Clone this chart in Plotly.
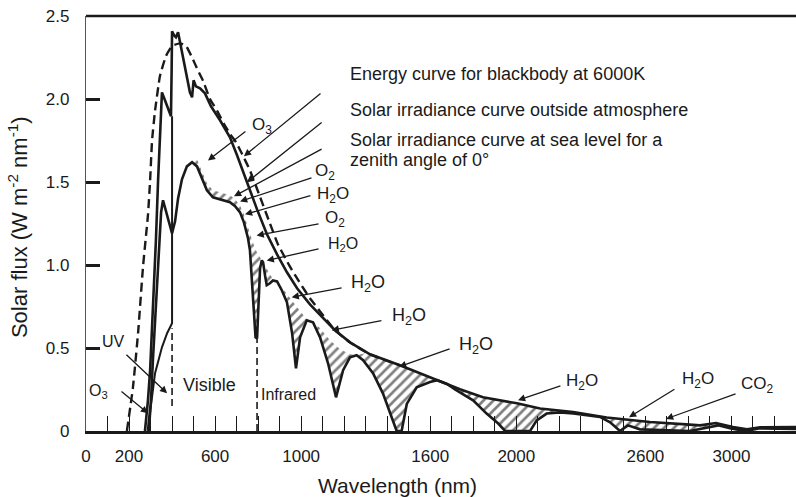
import numpy as np
import plotly.graph_objects as go

# ---- spectra: wavelength (nm) and flux (W m^-2 nm^-1) ----
bb_nm = [190, 218, 242, 265, 288, 298, 307, 321, 344, 372, 400, 437, 465, 493, 521, 544,
         576, 609, 641, 669, 697, 725, 762, 809, 855, 892, 948, 995, 1041, 1088, 1157,
         1227, 1320, 1459]
bb_flux = [0.0, 0.26, 0.59, 0.99, 1.30, 1.51, 1.75, 1.93, 2.14, 2.26, 2.32, 2.335, 2.32,
           2.25, 2.17, 2.11, 2.00, 1.93, 1.85, 1.79, 1.74, 1.67, 1.57, 1.41, 1.25, 1.125,
           0.99, 0.89, 0.80, 0.72, 0.607, 0.534, 0.462, 0.396]

toa_nm = [274, 288, 298, 307, 316, 325, 335, 344, 353, 367, 381, 395, 398, 400, 409, 418,
          428, 437, 451, 469, 483, 493, 500, 511, 530, 553, 581, 623, 669, 702, 748, 795,
          841, 888, 934, 981, 1041, 1097, 1157, 1227, 1320, 1459, 1613, 1738, 1845, 2003,
          2110, 2264, 2420, 2621, 2789, 2854, 2928, 3007, 3072, 3133, 3300]
toa_flux = [0.0, 0.185, 0.366, 0.607, 0.848, 1.149, 1.510, 1.811, 2.040, 1.992, 1.944,
            1.896, 2.173, 2.408, 2.384, 2.372, 2.402, 2.341, 2.245, 2.143, 2.040, 2.010,
            2.113, 2.076, 2.064, 2.034, 1.956, 1.872, 1.769, 1.661, 1.498, 1.335, 1.185,
            1.064, 0.956, 0.860, 0.763, 0.685, 0.607, 0.534, 0.462, 0.396, 0.317, 0.251,
            0.203, 0.167, 0.135, 0.114, 0.081, 0.054, 0.040, 0.034, 0.048, 0.024, 0.010,
            0.022, 0.024]

sea_nm = [288, 302, 311, 321, 330, 339, 349, 358, 372, 386, 400, 414, 428, 446, 469, 493,
          516, 539, 562, 590, 632, 669, 693, 716, 734, 753, 762, 772, 781, 788, 795, 802,
          809, 817, 823, 832, 840, 855, 869, 888, 910, 934, 958, 976, 995, 1026, 1055,
          1088, 1125, 1162, 1195, 1227, 1258, 1288, 1334, 1380, 1422, 1444, 1467, 1491,
          1537, 1599, 1632, 1678, 1715, 1799, 1862, 1916, 1948, 2064, 2095, 2141, 2203,
          2265, 2327, 2389, 2436, 2482, 2519, 2575, 2807, 2877, 2938, 2993, 3063, 3133,
          3226, 3300]
sea_flux = [0.0, 0.185, 0.426, 0.667, 0.907, 1.149, 1.317, 1.390, 1.329, 1.257, 1.191,
            1.263, 1.401, 1.516, 1.594, 1.619, 1.594, 1.516, 1.450, 1.408, 1.390, 1.378,
            1.354, 1.317, 1.257, 1.161, 1.088, 0.889, 0.685, 0.564, 0.558, 0.787, 0.980,
            1.028, 1.016, 0.938, 0.878, 0.890, 0.907, 0.901, 0.848, 0.775, 0.588, 0.378,
            0.564, 0.667, 0.655, 0.564, 0.408, 0.203, 0.366, 0.444, 0.456, 0.426, 0.348,
            0.227, 0.083, 0.0, 0.0, 0.163, 0.263, 0.295, 0.306, 0.283, 0.251, 0.185,
            0.105, 0.045, 0.0, 0.0, 0.064, 0.105, 0.112, 0.106, 0.095, 0.085, 0.052, 0.0,
            0.034, 0.010, 0.0, 0.019, 0.034, 0.016, 0.0, 0.016, 0.013, 0.013]

# near-UV step of the sea-level spectrum at 400 nm
step_nm = [293, 302, 321, 353, 377, 400, 400]
step_flux = [0.0, 0.155, 0.348, 0.504, 0.589, 0.649, 1.896]

# upper edge of the absorbed (hatched) area up to 1413 nm;
# beyond that the top-of-atmosphere curve bounds it
absorb_top_nm = [493, 516, 539, 562, 590, 632, 669, 693, 716, 734, 753, 772, 790, 817, 841,
                 869, 906, 948, 985, 1026, 1055, 1088, 1134, 1181, 1227, 1258, 1297, 1343,
                 1413]
absorb_top_flux = [1.619, 1.637, 1.564, 1.492, 1.450, 1.432, 1.420, 1.396, 1.359, 1.305,
                   1.221, 1.149, 1.088, 1.028, 0.980, 0.914, 0.872, 0.805, 0.739, 0.673,
                   0.661, 0.619, 0.546, 0.492, 0.462, 0.456, 0.468, 0.444, 0.414]

# UV / visible and visible / infrared boundaries
band_edges_nm = [400, 795]

x_tick_vals = [0, 200, 600, 1000, 1600, 2000, 2600, 3000]
y_tick_vals = [0, 0.5, 1.0, 1.5, 2.0, 2.5]
y_tick_text = ["0", "0.5", "1.0", "1.5", "2.0", "2.5"]

INK = "#1a1a1a"
FONT = "Liberation Sans, Arial, Helvetica, sans-serif"

# ---- hatched region: envelope vs. sea-level curve ----
toa_nm_a = np.array(toa_nm, float)
toa_flux_a = np.array(toa_flux, float)
sea_nm_a = np.array(sea_nm, float)
sea_flux_a = np.array(sea_flux, float)

tail = toa_nm_a > absorb_top_nm[-1]
env_x = np.concatenate([absorb_top_nm, toa_nm_a[tail]])
env_y = np.concatenate([absorb_top_flux, toa_flux_a[tail]])
keep = sea_nm_a >= absorb_top_nm[0]
sub_x = sea_nm_a[keep]
sub_y = sea_flux_a[keep]

fig = go.Figure()

fig.add_trace(go.Scatter(x=env_x, y=env_y, mode="lines",
                         line=dict(width=0, color="rgba(0,0,0,0)"),
                         hoverinfo="skip", showlegend=False))
fig.add_trace(go.Scatter(x=sub_x, y=sub_y, mode="lines", fill="tonexty",
                         fillcolor="rgba(0,0,0,0)",
                         fillpattern=dict(shape="/", size=7, solidity=0.38,
                                          fgcolor="#000000", bgcolor="rgba(0,0,0,0)"),
                         line=dict(width=0, color="rgba(0,0,0,0)"),
                         hoverinfo="skip", showlegend=False))

# blackbody curve
fig.add_trace(go.Scatter(x=bb_nm, y=bb_flux, mode="lines",
                         line=dict(color=INK, width=2.4, dash="9px,5px", shape="spline",
                                   smoothing=0.4),
                         showlegend=False))

# band boundaries (dashed)
uv_top = np.interp(band_edges_nm[0], step_nm[:-1], step_flux[:-1])
ir_top = np.interp(band_edges_nm[1], sea_nm, sea_flux)
for edge, y0, y1 in [(band_edges_nm[0], 0.15, uv_top - 0.03), (band_edges_nm[1], 0.0, ir_top)]:
    fig.add_trace(go.Scatter(x=[edge, edge], y=[y0, y1], mode="lines",
                             line=dict(color=INK, width=1.6, dash="7px,4px"),
                             showlegend=False))

# top-of-atmosphere and sea-level spectra
fig.add_trace(go.Scatter(x=toa_nm, y=toa_flux, mode="lines",
                         line=dict(color=INK, width=2.6), showlegend=False))
fig.add_trace(go.Scatter(x=sea_nm, y=sea_flux, mode="lines",
                         line=dict(color=INK, width=2.6), showlegend=False))
fig.add_trace(go.Scatter(x=step_nm, y=step_flux, mode="lines",
                         line=dict(color=INK, width=2.0), showlegend=False))

# ---- annotations ----
def arrow(head, tail):
    return dict(x=head[0], y=head[1], ax=tail[0], ay=tail[1],
                xref="x", yref="y", axref="x", ayref="y", text="",
                showarrow=True, arrowhead=2, arrowsize=1.1, arrowwidth=1.3,
                arrowcolor=INK, standoff=0, startstandoff=0)


def label(text, x, y, size=17, anchor="center"):
    return dict(x=x, y=y, xref="x", yref="y", text=text, showarrow=False,
                xanchor=anchor, yanchor="middle",
                font=dict(family=FONT, size=size, color=INK))


arrows = [
    ((734, 1.655), (1097, 2.040)),
    ((748, 1.498), (1102, 1.866)),
    ((688, 1.414), (1102, 1.703)),
    ((567, 1.630), (748, 1.811)),
    ((716, 1.383), (1055, 1.528)),
    ((739, 1.305), (1050, 1.420)),
    ((793, 1.178), (1088, 1.250)),
    ((840, 1.027), (1088, 1.099)),
    ((956, 0.806), (1195, 0.864)),
    ((1142, 0.607), (1380, 0.667)),
    ((1455, 0.387), (1697, 0.498)),
    ((2008, 0.185), (2212, 0.275)),
    ((2524, 0.083), (2742, 0.257)),
    ((2696, 0.073), (3026, 0.227)),
    ((377, 0.227), (181, 0.468)),
    ((288, 0.107), (158, 0.245)),
]

O3 = "O<sub>3</sub>"
O2 = "O<sub>2</sub>"
H2O = "H<sub>2</sub>O"
labels = [
    label("Energy curve for blackbody at 6000K", 1218, 2.149, 18, "left"),
    label("Solar irradiance curve outside atmosphere", 1218, 1.936, 18, "left"),
    label("Solar irradiance curve at sea level for a", 1218, 1.751, 18, "left"),
    label("zenith angle of 0°", 1218, 1.631, 18, "left"),
    label(O3, 818, 1.84),
    label(O2, 1111, 1.56),
    label(H2O, 1148, 1.42),
    label(O2, 1157, 1.28),
    label(H2O, 1195, 1.125, 16),
    label(H2O, 1311, 0.89, 18),
    label(H2O, 1501, 0.69, 18),
    label(H2O, 1813, 0.515, 18),
    label(H2O, 2305, 0.295),
    label(H2O, 2845, 0.305),
    label("CO<sub>2</sub>", 3119, 0.275),
    label("UV", 126, 0.540, 16),
    label(O3, 60, 0.235, 16),
    label("Visible", 576, 0.275, 18),
    label("Infrared", 939, 0.221, 16),
]

titles = [
    dict(x=0.439, y=-0.131, xref="paper", yref="paper", text="Wavelength (nm)",
         showarrow=False, xanchor="center", yanchor="middle",
         font=dict(family=FONT, size=21, color=INK)),
    dict(x=-0.096, y=0.491, xref="paper", yref="paper",
         text="Solar flux (W m<sup>-2</sup> nm<sup>-1</sup>)", textangle=-90,
         showarrow=False, xanchor="center", yanchor="middle",
         font=dict(family=FONT, size=22, color=INK)),
]

fig.update_layout(
    width=796, height=497,
    margin=dict(l=86, r=0, t=16, b=66),
    paper_bgcolor="white", plot_bgcolor="white",
    showlegend=False,
    font=dict(family=FONT, color=INK),
    annotations=[arrow(h, t) for h, t in arrows] + labels + titles,
    shapes=[dict(type="line", xref="paper", yref="paper", x0=0, x1=1, y0=1, y1=1,
                 line=dict(color=INK, width=2.5))],
)

fig.update_xaxes(
    range=[0, 3300], tickvals=x_tick_vals,
    ticks="inside", ticklen=15, tickwidth=1.3, tickcolor=INK,
    minor=dict(dtick=100, tick0=0, ticks="inside", ticklen=15, tickwidth=1.3,
               tickcolor=INK, showgrid=False),
    showline=True, linewidth=2.5, linecolor=INK,
    showgrid=False, zeroline=False,
    tickfont=dict(family=FONT, size=17, color=INK), ticklabelstandoff=8,
)
fig.update_yaxes(
    range=[0, 2.5], tickvals=y_tick_vals, ticktext=y_tick_text,
    ticks="inside", ticklen=14, tickwidth=2.5, tickcolor=INK,
    showline=True, linewidth=1.2, linecolor="#555",
    showgrid=False, zeroline=False,
    tickfont=dict(family=FONT, size=17, color=INK), ticklabelstandoff=12,
)

fig.write_html("out.html")
